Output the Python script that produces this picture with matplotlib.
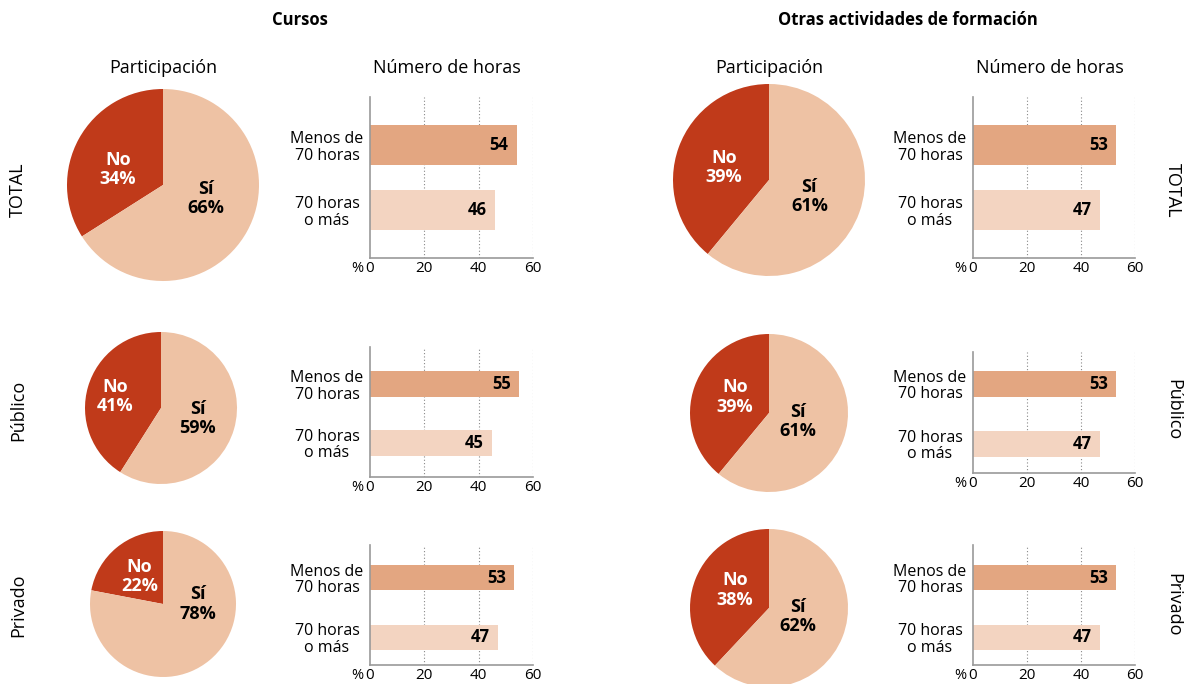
import matplotlib.pyplot as plt

plt.rcParams['font.family'] = ['Open Sans', 'DejaVu Sans']

groups = ['TOTAL', 'Público', 'Privado']
pie_labels = ['No', 'Sí']
bar_labels = ['Menos de\n70 horas', '70 horas\no más']

# participación (No, Sí) %
cursos_part = [[34, 66], [41, 59], [22, 78]]
otras_part = [[39, 61], [39, 61], [38, 62]]
# número de horas (Menos de 70, 70 o más) %
cursos_horas = [[54, 46], [55, 45], [53, 47]]
otras_horas = [[53, 47], [53, 47], [53, 47]]

c_no, c_si = '#C03A1A', '#EEC2A4'
c_menos, c_mas = '#E3A681', '#F3D4C1'

W, H = 1184, 684
fig = plt.figure(figsize=(W / 100, H / 100), dpi=100)


def px_axes(x0, y0, x1, y1):
    return fig.add_axes([x0 / W, 1 - y1 / H, (x1 - x0) / W, (y1 - y0) / H])


def pie(cx, cy, r, vals, pos_no, pos_si):
    ax = px_axes(cx - r, cy - r, cx + r, cy + r)
    ax.pie(vals, colors=[c_no, c_si], startangle=90, counterclock=True,
           wedgeprops=dict(linewidth=0))
    ax.set_xlim(-1, 1)
    ax.set_ylim(-1, 1)
    ax.set_aspect('auto')
    ax.axis('off')
    ax.text(*pos_no, f'{pie_labels[0]}\n{vals[0]}%', color='white', fontsize=13,
            fontweight='bold', ha='center', va='center', linespacing=1.1)
    ax.text(*pos_si, f'{pie_labels[1]}\n{vals[1]}%', color='black', fontsize=13,
            fontweight='bold', ha='center', va='center', linespacing=1.1)


def bars(x0, y0, x1, y1, vals, h, pad_t, pad_b):
    ax = px_axes(x0, y0, x1, y1)
    ax.barh([0, 1], vals, height=h, color=[c_menos, c_mas])
    ax.set_xlim(0, 60)
    ax.set_ylim(1 + pad_b, -pad_t)
    ax.set_xticks([0, 20, 40, 60])
    ax.set_yticks([0, 1])
    ax.set_yticklabels(bar_labels, fontsize=11.5, ha='center', linespacing=1.05)
    ax.tick_params(axis='y', length=0, pad=31)
    ax.tick_params(axis='x', length=0, labelsize=11, pad=2)
    for s in ['top', 'right']:
        ax.spines[s].set_visible(False)
    for s in ['left', 'bottom']:
        ax.spines[s].set_color('#999999')
        ax.spines[s].set_linewidth(1.2)
    for v in [20, 40, 60]:
        ax.axvline(v, color='#888888', linestyle=(0, (1, 2)), linewidth=0.8, zorder=0)
    for i, v in enumerate(vals):
        ax.text(v - 3, i, str(v), ha='right', va='center', fontsize=12, fontweight='bold')
    ax.annotate('%', xy=(0, 0), xycoords='axes fraction', xytext=(-5, -2),
                textcoords='offset points', ha='right', va='top', fontsize=10.5)
    return ax


# pies: (cx, cy, r), label positions in pie units
pies_l = [(163, 185, 96), (161, 408, 76), (163, 604, 73)]
pies_r = [(769, 180, 96), (769, 413, 79), (769, 608, 79)]
lab_l = [((-0.47, 0.16), (0.45, -0.14)), ((-0.6, 0.15), (0.48, -0.14)),
         ((-0.32, 0.38), (0.48, 0.0))]
lab_r = [((-0.47, 0.13), (0.42, -0.17)), ((-0.43, 0.2), (0.37, -0.11)),
         ((-0.43, 0.23), (0.37, -0.11))]
for (cx, cy, r), (pn, ps), v in zip(pies_l, lab_l, cursos_part):
    pie(cx, cy, r, v, pn, ps)
for (cx, cy, r), (pn, ps), v in zip(pies_r, lab_r, otras_part):
    pie(cx, cy, r, v, pn, ps)

# bar panels: (y0, y1, bar height, pad top, pad bottom)
rows_l = [(97, 258, 0.62, 0.74, 0.74), (347, 477, 0.44, 0.63, 0.58),
          (545, 665, 0.42, 0.55, 0.47)]
rows_r = [(97, 258, 0.62, 0.74, 0.74), (352, 473, 0.43, 0.53, 0.49),
          (545, 665, 0.42, 0.55, 0.47)]
for (y0, y1, h, pt, pb), v in zip(rows_l, cursos_horas):
    bars(370, y0, 533, y1, v, h, pt, pb)
for (y0, y1, h, pt, pb), v in zip(rows_r, otras_horas):
    bars(973, y0, 1135, y1, v, h, pt, pb)

# titles
fig.text(300 / W, 1 - 20 / H, 'Cursos', ha='center', va='center', fontsize=12, fontweight='bold')
fig.text(908 / W, 1 - 20 / H, 'Otras actividades de formación', ha='center', va='center',
         fontsize=12, fontweight='bold')
for x in [163, 769]:
    fig.text(x / W, 1 - 68 / H, 'Participación', ha='center', va='center', fontsize=13)
for x in [447, 1050]:
    fig.text(x / W, 1 - 68 / H, 'Número de horas', ha='center', va='center', fontsize=13)

for g, y in zip(groups, [190, 410, 605]):
    fig.text(18 / W, 1 - y / H, g, rotation=90, ha='center', va='center', fontsize=13)
    fig.text(1173 / W, 1 - y / H, g, rotation=270, ha='center', va='center', fontsize=13)

fig.savefig('out.png', dpi=100)
